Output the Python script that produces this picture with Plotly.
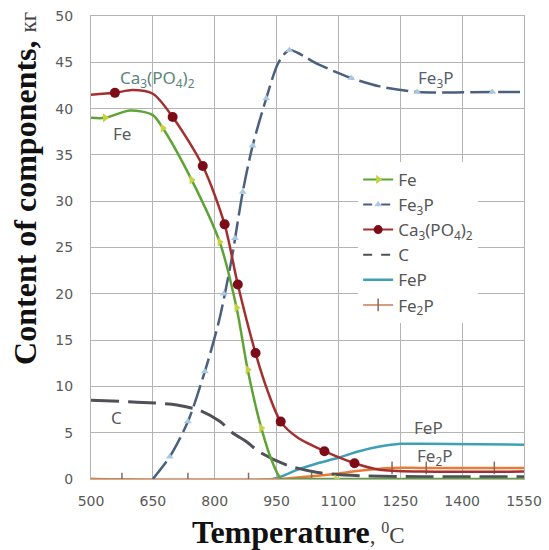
import plotly.graph_objects as go

# ---------------- data ----------------
fe_t = [500, 534, 595, 650, 674, 744, 812, 853, 880, 913, 942, 962, 1000, 1100, 1300, 1550]
fe_v = [39.0, 39.0, 39.8, 39.3, 37.9, 32.3, 25.6, 18.5, 11.8, 5.5, 1.6, 0.0, 0.0, 0.0, 0.0, 0.0]
fe_mt = [534, 674, 744, 812, 853, 880, 913, 1095]
fe_mv = [39.0, 37.9, 32.3, 25.6, 18.5, 11.8, 5.5, 0.0]

fe3p_t = [650, 691, 735, 776, 810, 840, 868, 892, 925, 955, 981, 1050, 1131, 1200, 1291, 1473, 1550]
fe3p_v = [0.0, 2.4, 6.2, 11.6, 17.0, 23.5, 31.0, 36.0, 41.1, 45.0, 46.3, 44.8, 43.3, 42.4, 41.8, 41.8, 41.8]
fe3p_mt = [691, 735, 776, 822, 849, 868, 892, 925, 981, 1131, 1291, 1473]
fe3p_mv = [2.4, 6.2, 11.6, 20.0, 26.0, 31.0, 36.0, 41.1, 46.3, 43.3, 41.8, 41.8]

ca_t = [500, 558, 600, 650, 698, 771, 824, 856, 899, 930, 960, 1000, 1066, 1139, 1200, 1300, 1550]
ca_v = [41.5, 41.7, 42.0, 41.6, 39.1, 33.8, 27.5, 21.0, 13.6, 9.3, 6.2, 4.5, 3.0, 1.7, 1.0, 0.8, 0.8]
ca_mt = [558, 698, 771, 824, 856, 899, 960, 1066, 1139]
ca_mv = [41.7, 39.1, 33.8, 27.5, 21.0, 13.6, 6.2, 3.0, 1.7]

c_t = [500, 611, 708, 764, 813, 843, 878, 909, 975, 1050, 1150, 1300, 1550]
c_v = [8.5, 8.3, 8.0, 7.4, 6.2, 5.0, 4.0, 2.9, 1.5, 0.7, 0.35, 0.25, 0.25]

fep_t = [500, 940, 1000, 1050, 1100, 1150, 1200, 1250, 1300, 1550]
fep_v = [0.0, 0.0, 1.0, 1.7, 2.3, 3.0, 3.5, 3.8, 3.8, 3.7]

fe2p_t = [500, 950, 1035, 1100, 1150, 1230, 1300, 1550]
fe2p_v = [0.0, 0.0, 0.3, 0.6, 0.9, 1.2, 1.2, 1.2]
fe2p_mt = [575, 735, 882, 1035, 1230, 1313, 1478]
fe2p_mv = [0.0, 0.0, 0.0, 0.3, 1.2, 1.2, 1.2]

x_ticks = [500, 650, 800, 950, 1100, 1250, 1400, 1550]
y_ticks = [0, 5, 10, 15, 20, 25, 30, 35, 40, 45, 50]

names = ["Fe", "Fe<sub>3</sub>P", "Ca<sub>3</sub>(PO<sub>4</sub>)<sub>2</sub>", "C", "FeP", "Fe<sub>2</sub>P"]

# ---------------- figure ----------------
fig = go.Figure()

def curve(t, v, color, width, dash="solid"):
    fig.add_trace(go.Scatter(x=t, y=v, mode="lines", showlegend=False, hoverinfo="skip",
                             line=dict(color=color, width=width, dash=dash, shape="spline", smoothing=0.8)))

def marks(t, v, symbol, color, size, lcolor=None, lw=0):
    fig.add_trace(go.Scatter(x=t, y=v, mode="markers", showlegend=False, hoverinfo="skip",
                             marker=dict(symbol=symbol, color=color, size=size,
                                         line=dict(color=lcolor or color, width=lw))))

def legend_entry(name, color, width, dash, symbol=None, mcolor=None, msize=8, lw=0):
    mode = "lines+markers" if symbol else "lines"
    fig.add_trace(go.Scatter(x=[None], y=[None], mode=mode, name=name,
                             line=dict(color=color, width=width, dash=dash),
                             marker=dict(symbol=symbol or "circle", color=mcolor or color, size=msize,
                                         line=dict(color=mcolor or color, width=lw))))

# order of drawing
curve(fep_t, fep_v, "#3f9fb5", 2.5)
curve(fe2p_t, fe2p_v, "#ea7a35", 2.5)
marks(fe2p_mt, fe2p_mv, "line-ns-open", "#8a6a5a", 9, "#8a6a5a", 1.5)
curve(c_t, c_v, "#4f5058", 3, "28px,9px")
curve(fe3p_t, fe3p_v, "#4b5f7e", 2.5, "22px,6px")
marks(fe3p_mt, fe3p_mv, "triangle-up", "#a9c9e2", 7)
curve(fe_t, fe_v, "#5fa336", 2.5)
marks(fe_mt, fe_mv, "triangle-right", "#c6d23e", 8)
curve(ca_t, ca_v, "#a3302f", 2.5)
marks(ca_mt, ca_mv, "circle", "#7c0c18", 10)

legend_entry(names[0], "#5fa336", 2, "solid", "triangle-right", "#c6d23e", 8)
legend_entry(names[1], "#4b5f7e", 2, "dash", "triangle-up", "#a9c9e2", 7)
legend_entry(names[2], "#a3302f", 2, "solid", "circle", "#7c0c18", 9)
legend_entry(names[3], "#4f5058", 2, "dash")
legend_entry(names[4], "#3f9fb5", 2.5, "solid")
legend_entry(names[5], "#c97a5a", 1.5, "solid", "line-ns-open", "#8a6a5a", 9, 1.5)

grid = "#b4b4b4"
fig.update_xaxes(range=[500, 1550], tickvals=x_ticks, ticktext=[str(v) for v in x_ticks],
                 showgrid=True, gridcolor=grid, gridwidth=1, zeroline=False,
                 showline=True, linecolor=grid, mirror=True, ticks="",
                 ticklabelstandoff=9, automargin=False,
                 tickfont=dict(family="DejaVu Sans", size=14, color="#5a5a5a"))
fig.update_yaxes(range=[0, 50], tickvals=y_ticks, ticktext=[str(v) for v in y_ticks],
                 showgrid=True, gridcolor=grid, gridwidth=1, zeroline=False,
                 showline=True, linecolor=grid, mirror=True, ticks="",
                 ticklabelstandoff=14, automargin=False,
                 tickfont=dict(family="DejaVu Sans", size=14, color="#5a5a5a"))

lab = dict(family="Noto Sans", size=17)
ann = [
    dict(x=662, y=43.3, text="Ca<sub>3</sub>(PO<sub>4</sub>)<sub>2</sub>", font=dict(color="#5c857c", **lab)),
    dict(x=575, y=37.3, text="Fe", font=dict(color="#5a5a5a", **lab)),
    dict(x=1336, y=43.2, text="Fe<sub>3</sub>P", font=dict(color="#55606e", **lab)),
    dict(x=563, y=6.6, text="C", font=dict(color="#5a5a5a", **lab)),
    dict(x=1319, y=5.6, text="FeP", font=dict(color="#5a5a5a", **lab)),
    dict(x=1334, y=2.4, text="Fe<sub>2</sub>P", font=dict(color="#5a5a5a", **lab)),
]
for a in ann:
    fig.add_annotation(xref="x", yref="y", showarrow=False, xanchor="center", yanchor="middle", **a)

fig.add_annotation(xref="paper", yref="paper", x=0.48, y=-0.114, showarrow=False,
                   xanchor="center", yanchor="middle",
                   text="<b>Temperature</b><span style='font-size:23px;color:#444'>, <sup>0</sup>C</span>",
                   font=dict(family="Liberation Serif", size=32, color="#111111"))
fig.add_annotation(xref="paper", yref="paper", x=-0.152, y=0.627, showarrow=False,
                   xanchor="center", yanchor="middle", textangle=-90,
                   text="<b>Content of components,</b> <span style='font-size:23px;color:#444'>кг</span>",
                   font=dict(family="Liberation Serif", size=32, color="#111111"))

fig.update_layout(
    width=549, height=550,
    margin=dict(l=91, r=25, t=16, b=71, autoexpand=False),
    paper_bgcolor="white", plot_bgcolor="white",
    showlegend=True,
    legend=dict(x=0.617, y=0.685, xanchor="left", yanchor="top", bgcolor="white",
                borderwidth=0, tracegroupgap=0,
                font=dict(family="Noto Sans", size=17, color="#555555")),
)

fig.write_html("out.html", config={"displayModeBar": False},
               post_script="document.body.style.margin='0';document.body.style.overflow='hidden';")
